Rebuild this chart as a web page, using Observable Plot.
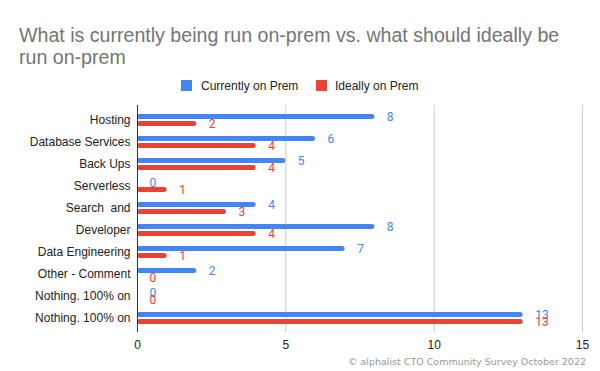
<!DOCTYPE html>
<html>
<head>
<meta charset="utf-8">
<script src="https://cdn.jsdelivr.net/npm/d3@7"></script>
<script src="https://cdn.jsdelivr.net/npm/@observablehq/plot@0.6"></script>
<style>
  html, body { margin: 0; padding: 0; background: #fff; }
  #wrap { position: relative; width: 600px; height: 371px; overflow: hidden; }
  #title { position: absolute; left: 19px; top: 24px; width: 580px; white-space: nowrap; font-family: "Liberation Sans", Arial, sans-serif; font-size: 19.6px; line-height: 22px; color: #757575; }
  .leg { position: absolute; font-family: "Liberation Sans", Arial, sans-serif; font-size: 12px; color: #222; top: 79px; line-height: 14px; }
  .sw { position: absolute; width: 11px; height: 11px; top: 80px; }
  #foot { position: absolute; right: 14px; top: 356px; font-family: "DejaVu Sans", Verdana, sans-serif; font-size: 9.5px; color: #999; white-space: nowrap; }
  #chart { position: absolute; left: 0; top: 0; }
</style>
</head>
<body>
<div id="wrap">
  <div id="chart"></div>
  <div id="title">What is currently being run on-prem vs. what should ideally be<br>run on-prem</div>
  <div class="sw" style="left:181px;background:#4285F4"></div>
  <div class="leg" style="left:201px">Currently on Prem</div>
  <div class="sw" style="left:316px;background:#EA4335"></div>
  <div class="leg" style="left:335px">Ideally on Prem</div>
  <div id="foot">© alphalist CTO Community Survey October 2022</div>
</div>
<script>
const categories = ["Hosting", "Database Services", "Back Ups", "Serverless", "Search  and", "Developer", "Data Engineering", "Other - Comment", "Nothing. 100% on", "Nothing. 100% on"];
const currentlyOnPrem = [8, 6, 5, 0, 4, 8, 7, 2, 0, 13];
const ideallyOnPrem = [2, 4, 4, 1, 3, 4, 1, 0, 0, 13];
const xTicks = [0, 5, 10, 15];
const seriesNames = ["Currently on Prem", "Ideally on Prem"];

const BLUE = "#4285F4", RED = "#EA4335";
const keys = categories.map((c, i) => String(i));
const cur = categories.map((c, i) => ({key: keys[i], value: currentlyOnPrem[i], series: seriesNames[0]}));
const ide = categories.map((c, i) => ({key: keys[i], value: ideallyOnPrem[i], series: seriesNames[1]}));

const chart = Plot.plot({
  width: 600,
  height: 371,
  marginLeft: 137,
  marginRight: 18,
  marginTop: 105,
  marginBottom: 39,
  style: {fontFamily: "'Liberation Sans', Arial, sans-serif", fontSize: "12px", color: "#222", background: "transparent"},
  x: {domain: [0, 15], ticks: xTicks, tickSize: 0, tickPadding: 8, label: null},
  y: {domain: keys, padding: 0, insetTop: 4, insetBottom: 3, tickSize: 0, tickPadding: 7, label: null, tickFormat: k => categories[+k]},
  marks: [
    Plot.ruleX(xTicks.filter(t => t > 0), {stroke: "#cccccc", strokeWidth: 1}),
    Plot.barX(cur, {x: "value", y: "key", fill: BLUE, insetTop: 5, insetBottom: 12, rx: 2.5}),
    Plot.barX(ide, {x: "value", y: "key", fill: RED, insetTop: 12, insetBottom: 5, rx: 2.5}),
    Plot.ruleX([0], {stroke: "#333333", strokeWidth: 1}),
    Plot.text(cur, {x: "value", y: "key", text: d => String(d.value), dx: 12, dy: -3.5, textAnchor: "start", fill: BLUE, fontSize: 12, fontFamily: "Roboto, sans-serif"}),
    Plot.text(ide, {x: "value", y: "key", text: d => String(d.value), dx: 12, dy: 3.5, textAnchor: "start", fill: RED, fontSize: 12, fontFamily: "Roboto, sans-serif"})
  ]
});
document.getElementById("chart").appendChild(chart);
</script>
</body>
</html>
